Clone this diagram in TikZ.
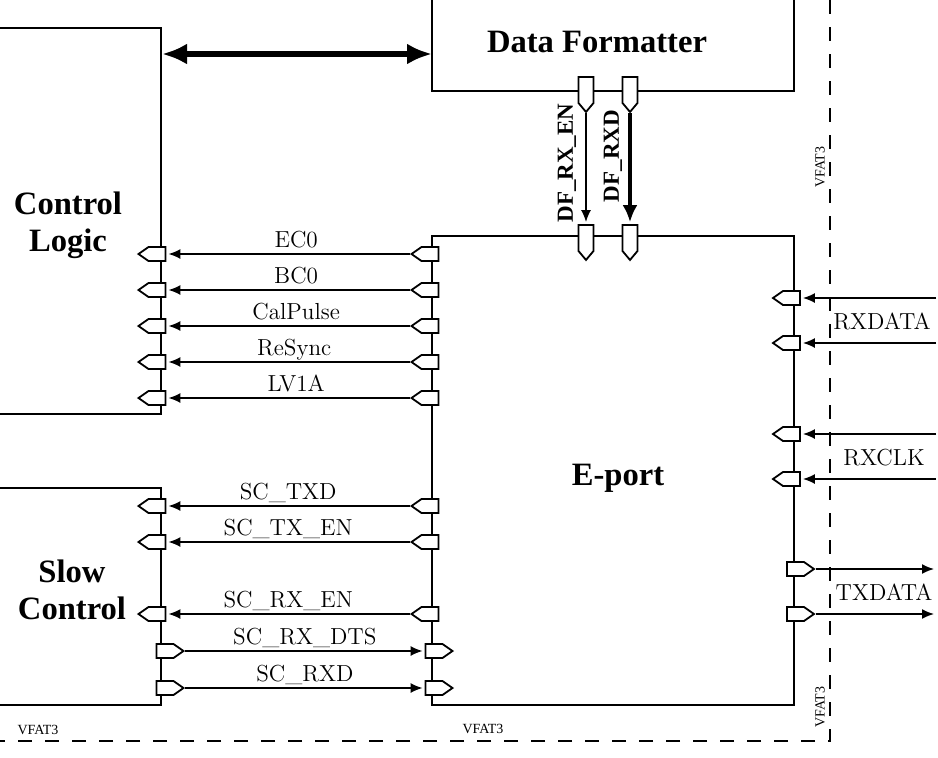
\documentclass[tikz,border=0pt]{standalone}
\usepackage{fontspec}
\newfontfamily\timesfont{Liberation Serif}
\usetikzlibrary{calc}
\usetikzlibrary{positioning}
\usetikzlibrary{arrows.meta}
\usetikzlibrary{shapes.symbols}
\tikzstyle{blockline} = [line width=0.85pt]
\tikzstyle{title} = [font=\timesfont\bfseries\fontsize{16.3}{18.5}\selectfont, align=center]
\tikzstyle{sig} = [font=\fontsize{11.6}{13}\selectfont, text depth=.25ex, inner sep=2pt]
\tikzstyle{dflabel} = [font=\timesfont\bfseries\fontsize{11.5}{13}\selectfont, inner sep=0pt]
\tikzstyle{chip} = [font=\timesfont\fontsize{7}{8}\selectfont, inner sep=0pt]
\tikzstyle{portW} = [draw, fill=white, signal, signal to=west, signal from=nowhere, signal pointer angle=70, minimum width=13.5pt, minimum height=7pt, inner sep=0pt, line width=0.9pt]
\tikzstyle{portE} = [draw, fill=white, signal, signal to=east, signal from=nowhere, signal pointer angle=70, minimum width=13.5pt, minimum height=7pt, inner sep=0pt, line width=0.9pt]
\tikzstyle{portS} = [draw, fill=white, signal, signal to=south, signal from=nowhere, signal pointer angle=80, minimum width=7.5pt, minimum height=13pt, inner sep=0pt, line width=0.9pt]
\tikzstyle{wire} = [line width=0.8pt, -{Latex[length=6pt,width=5pt]}, shorten >=1pt]
\tikzstyle{bus} = [line width=2.7pt, {Latex[length=12.5pt,width=10.5pt]}-{Latex[length=12.5pt,width=10.5pt]}]
\tikzstyle{border} = [line width=0.85pt, dash pattern=on 7pt off 6.5pt]

\begin{document}
\begin{tikzpicture}[x=0.5pt, y=-0.5pt]
    \useasboundingbox (0,0) rectangle (938,757);

    % blocks
    \draw[blockline] (0,28) -- (161,28) -- (161,414) -- (0,414);
    \draw[blockline] (0,488) -- (161,488) -- (161,705) -- (0,705);
    \draw[blockline] (432,0) -- (432,91) -- (794,91) -- (794,0);
    \node[draw, blockline, minimum width=181pt, minimum height=234.5pt, inner sep=0pt, outer sep=0pt] (eport) at (613,470.5) {};

    \node[title] (cl_title) at (68,225) {Control\\Logic};
    \node[title] (sc_title) at (72,590) {Slow\\Control};
    \node[title] (df_title) at (597,42) {Data Formatter};
    \node[title] (ep_title) at ($(eport.center)+(5,8)$) {E-port};

    % chip border
    \draw[border] (830,0) -- (830,741) -- (0,741);
    \node[chip] (chip_a) at (38,730) {VFAT3};
    \node[chip] (chip_b) at (483,729) {VFAT3};
    \node[chip, rotate=90] (chip_c) at (820,167) {VFAT3};
    \node[chip, rotate=90] (chip_d) at (820,707) {VFAT3};

    % bus between control logic and data formatter
    \coordinate (cl_bus) at (162,54);
    \coordinate (df_bus) at (432,54);
    \draw[bus] (cl_bus) -- (df_bus);

    % fast commands
    \node[portW] (ec0_cl) at (157,254) {};
    \node[portW] (ec0_ep) at (430,254) {};
    \draw[wire] (ec0_ep.west) -- node[sig, above, xshift=4pt] (ec0_lbl) {EC0} (ec0_cl.east);
    \node[portW] (bc0_cl) at (157,290) {};
    \node[portW] (bc0_ep) at (430,290) {};
    \draw[wire] (bc0_ep.west) -- node[sig, above, xshift=4pt] (bc0_lbl) {BC0} (bc0_cl.east);
    \node[portW] (cal_cl) at (157,326) {};
    \node[portW] (cal_ep) at (430,326) {};
    \draw[wire] (cal_ep.west) -- node[sig, above, xshift=4pt] (cal_lbl) {CalPulse} (cal_cl.east);
    \node[portW] (rsy_cl) at (157,362) {};
    \node[portW] (rsy_ep) at (430,362) {};
    \draw[wire] (rsy_ep.west) -- node[sig, above, xshift=3pt] (rsy_lbl) {ReSync} (rsy_cl.east);
    \node[portW] (lv1_cl) at (157,398) {};
    \node[portW] (lv1_ep) at (430,398) {};
    \draw[wire] (lv1_ep.west) -- node[sig, above, xshift=4pt] (lv1_lbl) {LV1A} (lv1_cl.east);

    % slow control
    \node[portW] (txd_sc) at (157,506) {};
    \node[portW] (txd_ep) at (430,506) {};
    \draw[wire] (txd_ep.west) -- node[sig, above] (txd_lbl) {SC\_TXD} (txd_sc.east);
    \node[portW] (txen_sc) at (157,542) {};
    \node[portW] (txen_ep) at (430,542) {};
    \draw[wire] (txen_ep.west) -- node[sig, above] (txen_lbl) {SC\_TX\_EN} (txen_sc.east);
    \node[portW] (rxen_sc) at (157,614) {};
    \node[portW] (rxen_ep) at (430,614) {};
    \draw[wire] (rxen_ep.west) -- node[sig, above] (rxen_lbl) {SC\_RX\_EN} (rxen_sc.east);
    \node[portE] (dts_sc) at (165,651) {};
    \node[portE] (dts_ep) at (434,651) {};
    \draw[wire] (dts_sc.east) -- node[sig, above] (dts_lbl) {SC\_RX\_DTS} (dts_ep.west);
    \node[portE] (rxd_sc) at (165,688) {};
    \node[portE] (rxd_ep) at (434,688) {};
    \draw[wire] (rxd_sc.east) -- node[sig, above] (rxd_lbl) {SC\_RXD} (rxd_ep.west);

    % data formatter to e-port
    \node[portS] (dfen_df) at (586,90) {};
    \node[portS] (dfrxd_df) at (630,90) {};
    \node[portS] (dfen_ep) at (586,238) {};
    \node[portS] (dfrxd_ep) at (630,238) {};
    \draw[wire] (dfen_df.south) -- (dfen_ep.north);
    \draw[line width=1.6pt, -{Latex[length=8.5pt,width=7.5pt]}, shorten >=1pt] (dfrxd_df.south) -- (dfrxd_ep.north);
    \node[dflabel, rotate=90] (dfen_lbl) at (567,163) {DF\_RX\_EN};
    \node[dflabel, rotate=90] (dfrxd_lbl) at (613,156) {DF\_RXD};

    % e-link side
    \node[portW] (rxa_ep) at (791.5,298) {};
    \node[portW] (rxb_ep) at (791.5,343) {};
    \node[portW] (cka_ep) at (791.5,434) {};
    \node[portW] (ckb_ep) at (791.5,479) {};
    \node[portE] (txa_ep) at (795.5,569) {};
    \node[portE] (txb_ep) at (795.5,614) {};
    \coordinate (rxa_in) at (936,298);
    \coordinate (rxb_in) at (936,343);
    \coordinate (cka_in) at (936,434);
    \coordinate (ckb_in) at (936,479);
    \coordinate (txa_out) at (936,569);
    \coordinate (txb_out) at (936,614);
    \draw[wire] (rxa_in) -- (rxa_ep.east);
    \draw[wire] (rxb_in) -- (rxb_ep.east);
    \draw[wire] (cka_in) -- (cka_ep.east);
    \draw[wire] (ckb_in) -- (ckb_ep.east);
    \draw[wire] (txa_ep.east) -- (txa_out);
    \draw[wire] (txb_ep.east) -- (txb_out);
    \node[sig] (rx_lbl) at (882,322) {RXDATA};
    \node[sig] (ck_lbl) at (884,458) {RXCLK};
    \node[sig] (tx_lbl) at (884,593) {TXDATA};
\end{tikzpicture}
\end{document}
